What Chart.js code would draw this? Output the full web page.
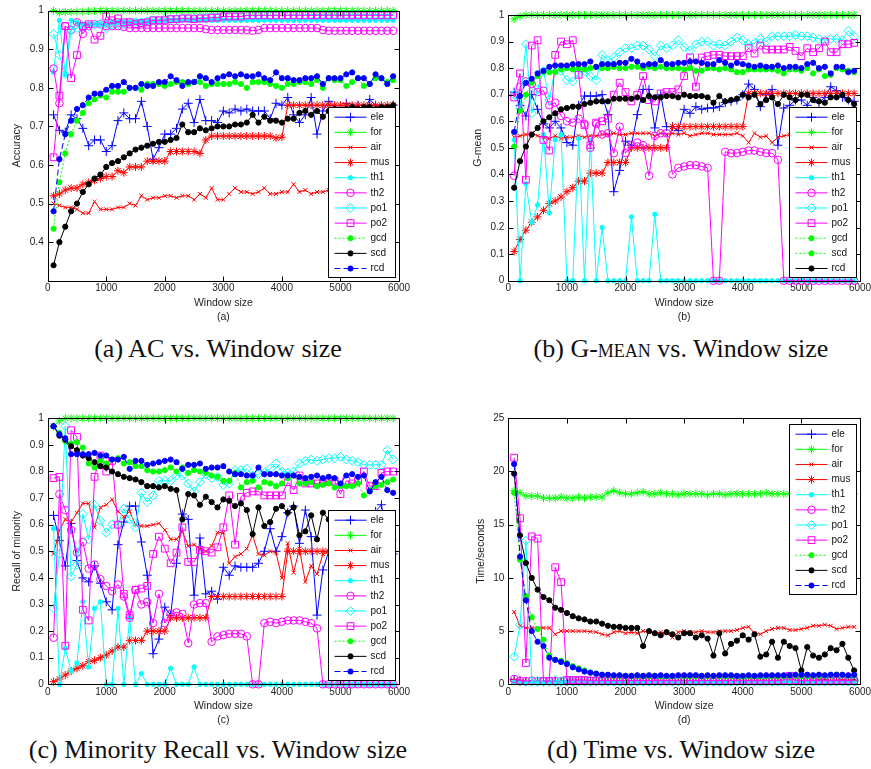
<!DOCTYPE html>
<html>
<head>
<meta charset="utf-8">
<script src="https://cdn.jsdelivr.net/npm/chart.js@4.4.1/dist/chart.umd.min.js"></script>
<style>
  html, body { margin: 0; padding: 0; background: #fff; overflow: hidden; }
  #page { position: relative; width: 871px; height: 769px; }
  canvas { position: absolute; }
  .cap { position: absolute; width: 440px; text-align: center; font-family: "Liberation Serif", "DejaVu Serif", serif;
         font-size: 26px; line-height: 30px; color: #111; white-space: nowrap; }
  .sc { font-variant: small-caps; }
</style>
</head>
<body>
<div id="page">
  <canvas id="acc" width="430" height="325" style="left:0;top:0"></canvas>
  <canvas id="gm" width="450" height="325" style="left:440px;top:0"></canvas>
  <canvas id="rec" width="430" height="328" style="left:0;top:400px"></canvas>
  <canvas id="time" width="450" height="328" style="left:440px;top:400px"></canvas>
  <div class="cap" style="left:-2px;top:334px">(a) AC vs. Window size</div>
  <div class="cap" style="left:461px;top:334px">(b) G-<span class="sc">mean</span> vs. Window size</div>
  <div class="cap" style="left:-2px;top:735px">(c) Minority Recall vs. Window size</div>
  <div class="cap" style="left:461px;top:735px">(d) Time vs. Window size</div>
</div>
<script>
// window sizes on the x axis
const windowSizes = [100, 200, 300, 400, 500, 600, 700, 800, 900, 1000,
  1100, 1200, 1300, 1400, 1500, 1600, 1700, 1800, 1900, 2000,
  2100, 2200, 2300, 2400, 2500, 2600, 2700, 2800, 2900, 3000,
  3100, 3200, 3300, 3400, 3500, 3600, 3700, 3800, 3900, 4000,
  4100, 4200, 4300, 4400, 4500, 4600, 4700, 4800, 4900, 5000,
  5100, 5200, 5300, 5400, 5500, 5600, 5700, 5800, 5900];

const seriesNames = ['ele', 'for', 'air', 'mus', 'th1', 'th2', 'po1', 'po2', 'gcd', 'scd', 'rcd'];

const xTicks = [0, 1000, 2000, 3000, 4000, 5000, 6000];

// ---- (a) accuracy ----
const accEle = [0.73, 0.69, 0.685, 0.73, 0.72, 0.695, 0.65, 0.665, 0.665, 0.635,
  0.65, 0.715, 0.735, 0.72, 0.72, 0.765, 0.70, 0.615, 0.645, 0.68,
  0.68, 0.695, 0.745, 0.76, 0.71, 0.77, 0.715, 0.715, 0.71, 0.74,
  0.735, 0.745, 0.74, 0.745, 0.74, 0.74, 0.74, 0.72, 0.76, 0.755,
  0.775, 0.73, 0.71, 0.73, 0.775, 0.68, 0.74, 0.765, 0.75, 0.745,
  0.76, 0.75, 0.755, 0.74, 0.77, 0.755, 0.75, 0.745, 0.755];
const accFor = [1, 0.995, 0.997, 0.997, 0.998, 0.998, 0.999, 0.999, 1, 1,
  1, 1, 1, 1, 1, 1, 1, 1, 1, 1,
  1, 1, 1, 1, 1, 1, 1, 1, 1, 1,
  1, 1, 1, 1, 1, 1, 1, 1, 1, 1,
  1, 1, 1, 1, 1, 1, 1, 1, 1, 1,
  1, 1, 1, 1, 1, 1, 1, 1, 1];
const accAir = [0.50, 0.495, 0.49, 0.49, 0.485, 0.475, 0.475, 0.505, 0.485, 0.485,
  0.485, 0.49, 0.49, 0.50, 0.495, 0.52, 0.51, 0.515, 0.515, 0.52,
  0.52, 0.515, 0.52, 0.52, 0.51, 0.525, 0.515, 0.54, 0.51, 0.51,
  0.525, 0.54, 0.53, 0.53, 0.525, 0.53, 0.54, 0.525, 0.525, 0.53,
  0.53, 0.55, 0.53, 0.535, 0.525, 0.53, 0.53, 0.535, 0.53, 0.54,
  0.535, 0.53, 0.545, 0.53, 0.535, 0.54, 0.53, 0.535, 0.54];
const accMus = [0.52, 0.525, 0.535, 0.54, 0.54, 0.55, 0.555, 0.56, 0.565, 0.57,
  0.57, 0.585, 0.58, 0.595, 0.595, 0.595, 0.61, 0.61, 0.61, 0.61,
  0.635, 0.635, 0.635, 0.635, 0.635, 0.63, 0.665, 0.675, 0.675, 0.675,
  0.675, 0.675, 0.675, 0.675, 0.675, 0.675, 0.675, 0.675, 0.67, 0.672,
  0.755, 0.755, 0.755, 0.755, 0.755, 0.755, 0.755, 0.755, 0.755, 0.755,
  0.755, 0.755, 0.755, 0.755, 0.755, 0.755, 0.755, 0.755, 0.755];
const accTh1 = [0.84, 0.975, 0.835, 0.975, 0.97, 0.965, 0.965, 0.965, 0.965, 0.968,
  0.97, 0.97, 0.97, 0.97, 0.972, 0.972, 0.972, 0.973, 0.973, 0.974,
  0.975, 0.975, 0.975, 0.975, 0.975, 0.975, 0.975, 0.975, 0.975, 0.975,
  0.975, 0.975, 0.975, 0.975, 0.975, 0.975, 0.975, 0.975, 0.975, 0.975,
  0.975, 0.975, 0.975, 0.975, 0.975, 0.975, 0.975, 0.975, 0.975, 0.975,
  0.975, 0.975, 0.975, 0.975, 0.975, 0.975, 0.975, 0.975, 0.975];
const accTh2 = [0.85, 0.76, 0.96, 0.95, 0.97, 0.94, 0.96, 0.965, 0.965, 0.96,
  0.96, 0.96, 0.958, 0.955, 0.955, 0.955, 0.955, 0.955, 0.955, 0.955,
  0.955, 0.955, 0.955, 0.955, 0.955, 0.955, 0.952, 0.95, 0.95, 0.95,
  0.95, 0.95, 0.95, 0.95, 0.948, 0.95, 0.955, 0.955, 0.955, 0.955,
  0.955, 0.955, 0.955, 0.955, 0.955, 0.955, 0.95, 0.948, 0.948, 0.948,
  0.948, 0.948, 0.948, 0.948, 0.948, 0.948, 0.948, 0.948, 0.948];
const accPo1 = [0.94, 0.885, 0.835, 0.95, 0.955, 0.96, 0.96, 0.965, 0.965, 0.955,
  0.965, 0.965, 0.965, 0.97, 0.97, 0.97, 0.972, 0.975, 0.975, 0.978,
  0.978, 0.978, 0.98, 0.98, 0.98, 0.982, 0.982, 0.983, 0.983, 0.985,
  0.985, 0.985, 0.985, 0.987, 0.987, 0.987, 0.988, 0.988, 0.988, 0.988,
  0.988, 0.989, 0.989, 0.989, 0.99, 0.99, 0.99, 0.99, 0.99, 0.99,
  0.99, 0.99, 0.99, 0.99, 0.99, 0.99, 0.99, 0.99, 0.99];
const accPo2 = [0.62, 0.78, 0.96, 0.825, 0.885, 0.96, 0.965, 0.925, 0.935, 0.985,
  0.975, 0.98, 0.97, 0.97, 0.965, 0.968, 0.97, 0.975, 0.975, 0.975,
  0.978, 0.978, 0.98, 0.98, 0.978, 0.98, 0.98, 0.982, 0.982, 0.985,
  0.985, 0.985, 0.985, 0.988, 0.988, 0.988, 0.988, 0.988, 0.988, 0.988,
  0.988, 0.988, 0.988, 0.988, 0.988, 0.988, 0.988, 0.988, 0.988, 0.988,
  0.988, 0.988, 0.988, 0.988, 0.988, 0.988, 0.988, 0.988, 0.988];
const accGcd = [0.435, 0.555, 0.63, 0.68, 0.715, 0.735, 0.76, 0.77, 0.78, 0.775,
  0.79, 0.79, 0.79, 0.80, 0.80, 0.795, 0.81, 0.81, 0.81, 0.805,
  0.81, 0.815, 0.815, 0.81, 0.815, 0.815, 0.805, 0.81, 0.81, 0.81,
  0.81, 0.815, 0.81, 0.80, 0.815, 0.815, 0.815, 0.81, 0.805, 0.80,
  0.81, 0.81, 0.815, 0.815, 0.81, 0.82, 0.80, 0.825, 0.82, 0.82,
  0.805, 0.815, 0.825, 0.805, 0.81, 0.825, 0.825, 0.815, 0.82];
const accScd = [0.34, 0.40, 0.44, 0.48, 0.50, 0.53, 0.55, 0.565, 0.575, 0.595,
  0.605, 0.61, 0.62, 0.63, 0.64, 0.645, 0.65, 0.655, 0.66, 0.66,
  0.665, 0.67, 0.705, 0.685, 0.685, 0.695, 0.69, 0.695, 0.70, 0.70,
  0.70, 0.705, 0.705, 0.71, 0.73, 0.71, 0.725, 0.715, 0.715, 0.71,
  0.72, 0.72, 0.735, 0.74, 0.73, 0.74, 0.725, 0.74, 0.745, 0.74,
  0.745, 0.75, 0.745, 0.75, 0.75, 0.745, 0.75, 0.75, 0.755];
const accRcd = [0.48, 0.615, 0.68, 0.715, 0.745, 0.755, 0.775, 0.785, 0.785, 0.795,
  0.805, 0.805, 0.815, 0.80, 0.80, 0.81, 0.805, 0.805, 0.815, 0.815,
  0.83, 0.82, 0.805, 0.815, 0.815, 0.83, 0.825, 0.815, 0.825, 0.83,
  0.835, 0.83, 0.835, 0.83, 0.83, 0.835, 0.825, 0.82, 0.84, 0.825,
  0.825, 0.82, 0.82, 0.825, 0.825, 0.83, 0.81, 0.825, 0.825, 0.825,
  0.835, 0.84, 0.825, 0.825, 0.81, 0.835, 0.825, 0.81, 0.83];

// ---- (b) G-mean ----
const gmEle = [0.71, 0.66, 0.62, 0.70, 0.645, 0.59, 0.575, 0.60, 0.575, 0.52,
  0.51, 0.66, 0.695, 0.695, 0.695, 0.70, 0.625, 0.335, 0.415, 0.525,
  0.51, 0.625, 0.72, 0.72, 0.575, 0.70, 0.58, 0.58, 0.565, 0.645,
  0.63, 0.655, 0.645, 0.65, 0.65, 0.655, 0.67, 0.675, 0.68, 0.70,
  0.74, 0.72, 0.655, 0.70, 0.72, 0.51, 0.65, 0.66, 0.68, 0.68,
  0.66, 0.69, 0.67, 0.69, 0.73, 0.715, 0.69, 0.68, 0.675];
const gmFor = [0.985, 0.995, 1, 1, 1, 1, 1, 1, 1, 1,
  1, 1, 1, 1, 1, 1, 1, 1, 1, 1,
  1, 1, 1, 1, 1, 1, 1, 1, 1, 1,
  1, 1, 1, 1, 1, 1, 1, 1, 1, 1,
  1, 1, 1, 1, 1, 1, 1, 1, 1, 1,
  1, 1, 1, 1, 1, 1, 1, 1, 1];
const gmAir = [0.54, 0.545, 0.55, 0.555, 0.545, 0.54, 0.535, 0.545, 0.535, 0.54,
  0.54, 0.545, 0.54, 0.545, 0.545, 0.55, 0.55, 0.555, 0.55, 0.55,
  0.555, 0.555, 0.555, 0.555, 0.545, 0.555, 0.55, 0.555, 0.55, 0.555,
  0.545, 0.55, 0.555, 0.555, 0.55, 0.55, 0.55, 0.55, 0.555, 0.545,
  0.52, 0.555, 0.54, 0.545, 0.52, 0.54, 0.545, 0.55, 0.545, 0.54,
  0.545, 0.55, 0.545, 0.54, 0.55, 0.545, 0.55, 0.545, 0.55];
const gmMus = [0.11, 0.155, 0.19, 0.22, 0.24, 0.265, 0.29, 0.30, 0.315, 0.335,
  0.35, 0.375, 0.375, 0.405, 0.405, 0.405, 0.445, 0.445, 0.445, 0.445,
  0.50, 0.50, 0.50, 0.50, 0.50, 0.50, 0.50, 0.58, 0.58, 0.58,
  0.58, 0.58, 0.58, 0.58, 0.58, 0.58, 0.58, 0.58, 0.58, 0.58,
  0.705, 0.705, 0.705, 0.705, 0.705, 0.705, 0.705, 0.705, 0.705, 0.705,
  0.705, 0.705, 0.705, 0.705, 0.705, 0.705, 0.705, 0.705, 0.705];
const gmTh1 = [0.53, 0, 0.365, 0.22, 0.285, 0.55, 0.255, 0.53, 0.55, 0,
  0, 0.535, 0, 0.53, 0, 0.20, 0, 0, 0, 0,
  0.24, 0, 0, 0, 0.25, 0, 0, 0, 0, 0,
  0, 0, 0, 0, 0, 0, 0, 0, 0, 0,
  0, 0, 0, 0, 0, 0, 0, 0, 0, 0,
  0, 0, 0, 0, 0, 0, 0, 0, 0];
const gmTh2 = [0.395, 0.73, 0.75, 0.74, 0.71, 0.715, 0.66, 0.67, 0.62, 0.60,
  0.595, 0.61, 0.59, 0.50, 0.59, 0.55, 0.555, 0.48, 0.58, 0.48,
  0.51, 0.52, 0.51, 0.395, 0.545, 0.555, 0.555, 0.40, 0.425, 0.43,
  0.435, 0.435, 0.43, 0.425, 0, 0, 0.485, 0.48, 0.48, 0.485,
  0.49, 0.49, 0.485, 0.48, 0.48, 0.455, 0, 0, 0, 0,
  0, 0, 0, 0, 0, 0, 0, 0, 0];
const gmPo1 = [0.70, 0.65, 0.89, 0.63, 0.72, 0.79, 0.68, 0.80, 0.79, 0.755,
  0.75, 0.78, 0.79, 0.77, 0.755, 0.85, 0.83, 0.84, 0.86, 0.875,
  0.875, 0.885, 0.885, 0.87, 0.845, 0.885, 0.875, 0.885, 0.905, 0.88,
  0.865, 0.89, 0.90, 0.90, 0.885, 0.89, 0.885, 0.90, 0.915, 0.905,
  0.89, 0.895, 0.91, 0.90, 0.92, 0.92, 0.92, 0.92, 0.925, 0.92,
  0.92, 0.915, 0.91, 0.905, 0.91, 0.91, 0.905, 0.94, 0.92];
const gmPo2 = [0.69, 0.78, 0.38, 0.885, 0.905, 0.53, 0.49, 0.85, 0.90, 0.89,
  0.905, 0.775, 0.585, 0.51, 0.595, 0.60, 0.61, 0.70, 0.745, 0.71,
  0.675, 0.70, 0.77, 0.68, 0.675, 0.705, 0.71, 0.71, 0.72, 0.77,
  0.84, 0.73, 0.84, 0.845, 0.85, 0.85, 0.845, 0.845, 0.845, 0.845,
  0.875, 0.855, 0.885, 0.87, 0.87, 0.87, 0.87, 0.88, 0.865, 0.845,
  0.875, 0.86, 0.875, 0.90, 0.86, 0.86, 0.89, 0.89, 0.895];
const gmGcd = [0.505, 0.64, 0.70, 0.745, 0.77, 0.785, 0.785, 0.785, 0.795, 0.80,
  0.795, 0.80, 0.795, 0.80, 0.805, 0.80, 0.80, 0.805, 0.80, 0.80,
  0.805, 0.805, 0.80, 0.805, 0.80, 0.805, 0.80, 0.80, 0.80, 0.795,
  0.80, 0.79, 0.79, 0.80, 0.80, 0.795, 0.80, 0.795, 0.785, 0.785,
  0.795, 0.795, 0.795, 0.795, 0.795, 0.79, 0.78, 0.795, 0.795, 0.79,
  0.80, 0.78, 0.795, 0.77, 0.775, 0.80, 0.795, 0.79, 0.785];
const gmScd = [0.35, 0.45, 0.505, 0.55, 0.575, 0.60, 0.615, 0.63, 0.645, 0.65,
  0.655, 0.655, 0.665, 0.67, 0.675, 0.675, 0.675, 0.685, 0.685, 0.685,
  0.685, 0.69, 0.68, 0.695, 0.69, 0.69, 0.695, 0.695, 0.69, 0.70,
  0.695, 0.695, 0.695, 0.69, 0.67, 0.695, 0.675, 0.68, 0.685, 0.70,
  0.69, 0.70, 0.665, 0.68, 0.69, 0.665, 0.70, 0.69, 0.68, 0.70,
  0.70, 0.68, 0.675, 0.67, 0.69, 0.69, 0.70, 0.68, 0.665];
const gmRcd = [0.56, 0.695, 0.745, 0.76, 0.78, 0.79, 0.805, 0.81, 0.81, 0.81,
  0.815, 0.815, 0.815, 0.825, 0.805, 0.815, 0.815, 0.815, 0.82, 0.82,
  0.835, 0.825, 0.81, 0.815, 0.815, 0.83, 0.815, 0.815, 0.82, 0.82,
  0.825, 0.825, 0.82, 0.815, 0.815, 0.83, 0.82, 0.81, 0.82, 0.815,
  0.81, 0.805, 0.81, 0.805, 0.805, 0.81, 0.80, 0.805, 0.805, 0.80,
  0.815, 0.82, 0.80, 0.805, 0.78, 0.805, 0.805, 0.785, 0.79];

// ---- (c) recall of the minority class ----
const recEle = [0.635, 0.54, 0.445, 0.605, 0.465, 0.40, 0.385, 0.445, 0.38, 0.31,
  0.28, 0.525, 0.61, 0.67, 0.67, 0.535, 0.41, 0.115, 0.17, 0.29,
  0.26, 0.455, 0.64, 0.62, 0.335, 0.55, 0.34, 0.35, 0.32, 0.44,
  0.41, 0.445, 0.44, 0.44, 0.44, 0.455, 0.50, 0.585, 0.50, 0.555,
  0.645, 0.67, 0.53, 0.655, 0.555, 0.26, 0.43, 0.50, 0.55, 0.53,
  0.57, 0.60, 0.58, 0.62, 0.60, 0.65, 0.675, 0.56, 0.49];
const recFor = [0.97, 0.99, 1, 1, 1, 1, 1, 1, 1, 1,
  1, 1, 1, 1, 1, 1, 1, 1, 1, 1,
  1, 1, 1, 1, 1, 1, 1, 1, 1, 1,
  1, 1, 1, 1, 1, 1, 1, 1, 1, 1,
  1, 1, 1, 1, 1, 1, 1, 1, 1, 1,
  1, 1, 1, 1, 1, 1, 1, 1, 1];
const recAir = [0.49, 0.58, 0.62, 0.61, 0.645, 0.68, 0.68, 0.59, 0.665, 0.675,
  0.695, 0.65, 0.63, 0.65, 0.60, 0.595, 0.595, 0.60, 0.605, 0.58,
  0.545, 0.545, 0.575, 0.52, 0.525, 0.51, 0.50, 0.52, 0.57, 0.57,
  0.455, 0.48, 0.49, 0.51, 0.56, 0.49, 0.485, 0.50, 0.495, 0.40,
  0.53, 0.42, 0.51, 0.385, 0.445, 0.415, 0.49, 0.50, 0.48, 0.52,
  0.50, 0.49, 0.51, 0.50, 0.52, 0.49, 0.50, 0.51, 0.50];
const recMus = [0.01, 0.02, 0.035, 0.05, 0.06, 0.07, 0.085, 0.09, 0.10, 0.11,
  0.125, 0.14, 0.14, 0.165, 0.165, 0.165, 0.20, 0.20, 0.20, 0.20,
  0.25, 0.25, 0.25, 0.25, 0.25, 0.25, 0.25, 0.33, 0.33, 0.33,
  0.33, 0.33, 0.33, 0.33, 0.33, 0.33, 0.33, 0.33, 0.33, 0.33,
  0.50, 0.50, 0.50, 0.50, 0.50, 0.50, 0.50, 0.50, 0.50, 0.50,
  0.50, 0.50, 0.50, 0.50, 0.50, 0.50, 0.50, 0.50, 0.50];
const recTh1 = [0.585, 0, 0.135, 0.05, 0.08, 0.31, 0.065, 0.285, 0.31, 0,
  0, 0.285, 0, 0.25, 0, 0.04, 0, 0, 0, 0,
  0.06, 0, 0, 0, 0.065, 0, 0, 0, 0, 0,
  0, 0, 0, 0, 0, 0, 0, 0, 0, 0,
  0, 0, 0, 0, 0, 0, 0, 0, 0, 0,
  0, 0, 0, 0, 0, 0, 0, 0, 0];
const recTh2 = [0.175, 0.715, 0.655, 0.58, 0.495, 0.535, 0.435, 0.45, 0.395, 0.37,
  0.35, 0.375, 0.33, 0.25, 0.355, 0.30, 0.31, 0.23, 0.34, 0.23,
  0.265, 0.27, 0.265, 0.155, 0.30, 0.305, 0.305, 0.16, 0.18, 0.185,
  0.19, 0.19, 0.19, 0.18, 0, 0, 0.23, 0.235, 0.23, 0.235,
  0.24, 0.24, 0.24, 0.235, 0.23, 0.21, 0, 0, 0, 0,
  0, 0, 0, 0, 0, 0, 0, 0, 0];
const recPo1 = [0.285, 0.49, 0.97, 0.405, 0.45, 0.64, 0.545, 0.675, 0.615, 0.57,
  0.60, 0.60, 0.66, 0.62, 0.59, 0.72, 0.685, 0.71, 0.765, 0.765,
  0.765, 0.785, 0.785, 0.755, 0.725, 0.76, 0.79, 0.775, 0.78, 0.75,
  0.755, 0.805, 0.805, 0.81, 0.785, 0.79, 0.795, 0.81, 0.83, 0.80,
  0.795, 0.80, 0.83, 0.84, 0.845, 0.84, 0.845, 0.85, 0.85, 0.855,
  0.845, 0.84, 0.835, 0.825, 0.825, 0.825, 0.825, 0.88, 0.845];
const recPo2 = [0.775, 0.78, 0.145, 0.955, 0.93, 0.28, 0.24, 0.78, 0.86, 0.80,
  0.84, 0.60, 0.34, 0.26, 0.355, 0.36, 0.37, 0.49, 0.555, 0.51,
  0.455, 0.495, 0.59, 0.46, 0.46, 0.505, 0.50, 0.495, 0.515, 0.59,
  0.71, 0.525, 0.705, 0.72, 0.725, 0.725, 0.71, 0.71, 0.71, 0.71,
  0.76, 0.73, 0.785, 0.755, 0.755, 0.755, 0.76, 0.765, 0.765, 0.715,
  0.765, 0.755, 0.765, 0.80, 0.745, 0.745, 0.795, 0.80, 0.80];
const recGcd = [0.97, 0.945, 0.915, 0.905, 0.91, 0.89, 0.83, 0.815, 0.84, 0.83,
  0.845, 0.85, 0.83, 0.835, 0.82, 0.82, 0.805, 0.80, 0.80, 0.805,
  0.815, 0.80, 0.815, 0.795, 0.805, 0.80, 0.795, 0.785, 0.78, 0.765,
  0.765, 0.795, 0.74, 0.76, 0.765, 0.74, 0.76, 0.755, 0.745, 0.755,
  0.775, 0.785, 0.755, 0.755, 0.76, 0.745, 0.75, 0.755, 0.74, 0.745,
  0.745, 0.745, 0.755, 0.71, 0.73, 0.745, 0.75, 0.76, 0.77];
const recScd = [0.97, 0.935, 0.92, 0.895, 0.88, 0.86, 0.85, 0.835, 0.82, 0.815,
  0.80, 0.79, 0.78, 0.775, 0.77, 0.76, 0.745, 0.745, 0.74, 0.745,
  0.735, 0.73, 0.62, 0.715, 0.71, 0.675, 0.705, 0.685, 0.665, 0.695,
  0.69, 0.67, 0.68, 0.655, 0.565, 0.665, 0.595, 0.61, 0.66, 0.67,
  0.645, 0.665, 0.56, 0.575, 0.635, 0.545, 0.645, 0.62, 0.60, 0.63,
  0.61, 0.58, 0.62, 0.60, 0.59, 0.57, 0.60, 0.56, 0.54];
const recRcd = [0.97, 0.94, 0.925, 0.865, 0.865, 0.865, 0.865, 0.87, 0.86, 0.86,
  0.845, 0.845, 0.855, 0.81, 0.84, 0.84, 0.825, 0.83, 0.835, 0.84,
  0.845, 0.835, 0.81, 0.825, 0.825, 0.83, 0.81, 0.815, 0.815, 0.82,
  0.80, 0.79, 0.79, 0.785, 0.785, 0.815, 0.79, 0.79, 0.79, 0.785,
  0.785, 0.785, 0.78, 0.775, 0.78, 0.785, 0.775, 0.78, 0.775, 0.755,
  0.785, 0.79, 0.78, 0.785, 0.725, 0.76, 0.78, 0.73, 0.72];

// ---- (d) running time in seconds ----
const timeEle = [0.45, 0.3, 0.25, 0.3, 0.3, 0.25, 0.3, 0.3, 0.25, 0.3,
  0.3, 0.3, 0.3, 0.3, 0.3, 0.3, 0.3, 0.3, 0.35, 0.3,
  0.3, 0.3, 0.35, 0.3, 0.3, 0.3, 0.3, 0.35, 0.3, 0.3,
  0.35, 0.3, 0.3, 0.35, 0.3, 0.3, 0.35, 0.3, 0.35, 0.3,
  0.35, 0.35, 0.3, 0.35, 0.35, 0.3, 0.35, 0.35, 0.35, 0.35,
  0.35, 0.35, 0.35, 0.4, 0.35, 0.35, 0.4, 0.35, 0.4];
const timeFor = [18.2, 18.0, 17.7, 17.7, 17.7, 17.5, 17.5, 17.5, 17.6, 17.5,
  17.5, 17.6, 17.5, 17.6, 17.6, 17.6, 18.0, 18.2, 18.0, 17.9,
  17.9, 18.0, 18.1, 17.9, 17.9, 18.0, 17.9, 17.9, 17.8, 17.9,
  17.9, 17.9, 17.9, 17.8, 17.9, 17.9, 17.8, 17.9, 17.9, 17.9,
  17.9, 17.9, 17.9, 18.0, 17.9, 17.9, 17.9, 17.9, 17.9, 17.9,
  17.9, 17.9, 17.9, 17.9, 17.9, 17.9, 17.9, 17.9, 17.9];
const timeAir = [6.8, 5.5, 5.3, 5.3, 5.3, 5.3, 5.3, 4.7, 5.0, 5.0,
  5.0, 5.0, 5.0, 4.95, 4.9, 4.7, 4.6, 4.9, 5.0, 4.8,
  4.9, 4.8, 5.0, 4.9, 4.8, 4.9, 4.8, 4.4, 4.9, 5.0,
  4.9, 4.9, 5.0, 4.9, 4.9, 5.0, 5.0, 5.0, 5.1, 5.3,
  5.4, 4.8, 4.7, 5.0, 5.2, 5.3, 5.3, 5.1, 5.1, 5.2,
  5.3, 5.5, 5.5, 5.6, 5.5, 5.2, 5.3, 5.4, 5.4];
const timeMus = [0.3, 0.25, 0.2, 0.2, 0.2, 0.2, 0.2, 0.2, 0.2, 0.2,
  0.2, 0.2, 0.2, 0.2, 0.2, 0.2, 0.2, 0.2, 0.2, 0.2,
  0.2, 0.2, 0.2, 0.2, 0.25, 0.2, 0.2, 0.2, 0.2, 0.2,
  0.2, 0.2, 0.25, 0.2, 0.2, 0.2, 0.2, 0.2, 0.25, 0.2,
  0.25, 0.2, 0.25, 0.25, 0.2, 0.25, 0.25, 0.25, 0.25, 0.25,
  0.25, 0.25, 0.3, 0.25, 0.25, 0.3, 0.25, 0.3, 0.3];
const timeTh1 = [0.2, 0.15, 0.1, 0.1, 0.1, 0.1, 0.1, 0.1, 0.1, 0.1,
  0.1, 0.1, 0.1, 0.1, 0.1, 0.1, 0.1, 0.1, 0.1, 0.1,
  0.1, 0.1, 0.1, 0.1, 0.1, 0.1, 0.1, 0.1, 0.1, 0.1,
  0.1, 0.1, 0.1, 0.1, 0.1, 0.1, 0.1, 0.1, 0.1, 0.1,
  0.1, 0.1, 0.1, 0.1, 0.1, 0.1, 0.1, 0.1, 0.1, 0.1,
  0.1, 0.1, 0.1, 0.1, 0.1, 0.1, 0.1, 0.1, 0.1];
const timeTh2 = [0.5, 0.35, 0.3, 0.35, 0.3, 0.3, 0.3, 0.3, 0.3, 0.3,
  0.3, 0.3, 0.3, 0.3, 0.3, 0.3, 0.3, 0.3, 0.3, 0.3,
  0.3, 0.3, 0.3, 0.3, 0.3, 0.3, 0.3, 0.3, 0.3, 0.3,
  0.3, 0.3, 0.3, 0.3, 0.3, 0.3, 0.3, 0.3, 0.3, 0.3,
  0.3, 0.3, 0.3, 0.3, 0.3, 0.3, 0.3, 0.35, 0.3, 0.3,
  0.3, 0.3, 0.3, 0.3, 0.3, 0.3, 0.3, 0.3, 0.3];
const timePo1 = [2.6, 5.6, 13.5, 0.3, 0.3, 0.3, 0.3, 0.4, 0.3, 0.3,
  0.3, 0.3, 0.3, 0.3, 0.3, 0.3, 0.3, 0.3, 0.3, 0.3,
  0.3, 0.3, 0.3, 0.3, 0.3, 0.3, 0.3, 0.3, 0.3, 0.3,
  0.3, 0.3, 0.3, 0.3, 0.3, 0.3, 0.3, 0.3, 0.3, 0.3,
  0.3, 0.3, 0.3, 0.3, 0.3, 0.3, 0.3, 0.3, 0.3, 0.3,
  0.3, 0.3, 0.3, 0.3, 0.3, 0.3, 0.3, 0.3, 0.3];
const timePo2 = [21.3, 15.6, 2.0, 13.9, 13.7, 0.3, 0.3, 11.0, 9.6, 0.4,
  0.4, 0.4, 0.4, 0.35, 0.35, 0.35, 0.35, 0.35, 0.35, 0.35,
  0.35, 0.35, 0.35, 0.35, 0.35, 0.35, 0.35, 0.35, 0.35, 0.35,
  0.35, 0.35, 0.35, 0.35, 0.35, 0.35, 0.35, 0.35, 0.35, 0.35,
  0.35, 0.35, 0.35, 0.35, 0.35, 0.35, 0.4, 0.8, 0.4, 0.35,
  0.35, 0.35, 0.35, 0.35, 0.35, 0.35, 0.35, 0.35, 0.35];
const timeGcd = [18.0, 11.7, 8.3, 6.3, 5.2, 4.2, 2.7, 2.3, 2.2, 2.0,
  1.7, 1.5, 1.3, 1.1, 1.0, 0.9, 0.85, 0.8, 0.8, 0.8,
  0.75, 0.8, 0.75, 0.75, 0.8, 0.75, 0.75, 0.75, 0.8, 0.75,
  0.75, 0.75, 0.75, 0.75, 0.75, 0.75, 0.75, 0.75, 0.75, 0.7,
  0.75, 0.75, 0.75, 0.75, 0.75, 0.75, 0.75, 0.8, 0.8, 0.75,
  0.8, 0.8, 0.8, 0.8, 0.85, 0.9, 0.85, 0.8, 0.85];
const timeScd = [19.8, 14.0, 11.4, 10.0, 8.9, 8.2, 7.9, 7.2, 7.0, 6.7,
  6.4, 6.2, 6.1, 5.9, 5.9, 5.7, 5.5, 5.4, 5.4, 5.3,
  5.3, 5.3, 3.6, 5.0, 4.8, 4.6, 4.9, 4.7, 4.4, 4.8,
  4.8, 4.4, 4.6, 4.3, 2.7, 4.8, 2.9, 3.8, 4.1, 4.6,
  4.2, 4.7, 2.6, 2.8, 4.0, 2.5, 4.0, 3.6, 3.4, 1.3,
  3.5, 2.7, 2.5, 2.8, 3.4, 3.2, 3.8, 2.5, 1.3];
const timeRcd = [20.7, 12.0, 7.9, 5.0, 4.0, 3.6, 2.5, 2.3, 2.1, 1.9,
  1.6, 1.4, 1.2, 1.1, 1.0, 0.9, 0.9, 0.85, 0.85, 0.8,
  0.8, 0.85, 0.8, 0.85, 0.8, 0.85, 0.8, 0.8, 0.85, 0.85,
  0.85, 0.85, 0.8, 0.85, 0.8, 0.85, 0.85, 0.85, 0.8, 0.8,
  0.85, 0.8, 0.85, 0.85, 0.85, 0.85, 0.85, 0.85, 0.9, 0.9,
  0.9, 0.85, 0.9, 0.85, 0.9, 0.9, 0.9, 0.85, 0.9];

const accSeries = [accEle, accFor, accAir, accMus, accTh1, accTh2, accPo1, accPo2, accGcd, accScd, accRcd];
const gmSeries = [gmEle, gmFor, gmAir, gmMus, gmTh1, gmTh2, gmPo1, gmPo2, gmGcd, gmScd, gmRcd];
const recSeries = [recEle, recFor, recAir, recMus, recTh1, recTh2, recPo1, recPo2, recGcd, recScd, recRcd];
const timeSeries = [timeEle, timeFor, timeAir, timeMus, timeTh1, timeTh2, timePo1, timePo2, timeGcd, timeScd, timeRcd];

// MATLAB-like line specs, one per series
const BLUE = '#0000ff', GREEN = '#00ff00', RED = '#ff0000', CYAN = '#00ffff', MAGENTA = '#ff00ff', BLACK = '#000000';
const specs = [
  { color: BLUE,    marker: 'cross',    size: 4.5, fill: false },
  { color: GREEN,   marker: 'star',     size: 4,   fill: false },
  { color: RED,     marker: 'crossRot', size: 2.8, fill: false },
  { color: RED,     marker: 'star',     size: 4,   fill: false },
  { color: CYAN,    marker: 'circle',   size: 2.2, fill: true },
  { color: MAGENTA, marker: 'circle',   size: 3.8, fill: false },
  { color: CYAN,    marker: 'rectRot',  size: 4.5, fill: false },
  { color: MAGENTA, marker: 'rect',     size: 4.8, fill: false },
  { color: GREEN,   marker: 'circle',   size: 2.6, fill: true, dash: [2, 2] },
  { color: BLACK,   marker: 'circle',   size: 2.6, fill: true },
  { color: BLUE,    marker: 'circle',   size: 2.6, fill: true, dash: [6, 3] }
];

Chart.defaults.font.family = '"Liberation Sans", Arial, sans-serif';
Chart.defaults.font.size = 10;
Chart.defaults.color = '#1e1e1e';

const crisp = v => Math.round(v) + 0.5;

// box, inward tick marks and the in-axes legend
function framePlugin(legend) {
  return {
    id: 'frame',
    afterDatasetsDraw(chart) {
      const { ctx, chartArea: a } = chart;
      const xs = chart.scales.x, ys = chart.scales.y;
      const L = crisp(a.left), R = crisp(a.right), T = crisp(a.top), B = crisp(a.bottom);
      ctx.save();
      ctx.strokeStyle = '#000';
      ctx.lineWidth = 1;
      ctx.setLineDash([]);
      ctx.beginPath();
      xs.ticks.forEach(t => {
        const p = crisp(xs.getPixelForValue(t.value));
        ctx.moveTo(p, B); ctx.lineTo(p, B - 5);
        ctx.moveTo(p, T); ctx.lineTo(p, T + 5);
      });
      ys.ticks.forEach(t => {
        const p = crisp(ys.getPixelForValue(t.value));
        ctx.moveTo(L, p); ctx.lineTo(L + 5, p);
        ctx.moveTo(R, p); ctx.lineTo(R - 5, p);
      });
      ctx.stroke();
      ctx.strokeRect(L, T, R - L, B - T);

      const w = 67, h = 170, inset = 5;
      const x0 = crisp(R - inset - w);
      const y0 = crisp(legend.anchor === 'top' ? T + inset : B - inset - h);
      ctx.fillStyle = '#fff';
      ctx.fillRect(x0, y0, w, h);
      ctx.strokeRect(x0, y0, w, h);
      const rowH = (h - 18.7) / 10;
      ctx.font = '10px "Liberation Sans", Arial, sans-serif';
      ctx.textBaseline = 'middle';
      ctx.textAlign = 'left';
      seriesNames.forEach((name, k) => {
        const s = legend.styles[k];
        const y = y0 + 9.7 + k * rowH;
        ctx.strokeStyle = s.color;
        ctx.lineWidth = 1;
        ctx.setLineDash(s.dash || []);
        ctx.beginPath();
        ctx.moveTo(x0 + 6, y); ctx.lineTo(x0 + 38, y);
        ctx.stroke();
        ctx.setLineDash([]);
        ctx.fillStyle = s.fill ? s.color : 'rgba(0,0,0,0)';
        Chart.helpers.drawPoint(ctx, { pointStyle: s.marker, radius: s.size, rotation: 0, borderWidth: 1 }, x0 + 22, y);
        ctx.fillStyle = '#111';
        ctx.fillText(name, x0 + 42, y);
      });
      ctx.restore();
    }
  };
}

function buildDatasets(series) {
  return seriesNames.map((name, i) => {
    const s = specs[i];
    const bg = s.fill ? s.color : 'rgba(0,0,0,0)';
    return {
      label: name,
      data: windowSizes.map((w, k) => ({ x: w, y: series[i][k] })),
      borderColor: s.color,
      backgroundColor: bg,
      borderWidth: 1,
      borderDash: s.dash || [],
      pointStyle: s.marker,
      pointRadius: s.size,
      pointBorderColor: s.color,
      pointBackgroundColor: bg,
      pointBorderWidth: 1,
      tension: 0,
      fill: false,
      clip: false,
      order: seriesNames.length - i
    };
  });
}

function makeChart(id, series, o) {
  new Chart(document.getElementById(id), {
    type: 'line',
    data: { datasets: buildDatasets(series) },
    options: {
      responsive: false,
      animation: false,
      devicePixelRatio: 1,
      layout: { padding: o.pad },
      plugins: { legend: { display: false }, tooltip: { enabled: false } },
      scales: {
        x: {
          type: 'linear', min: 0, max: 6000,
          afterBuildTicks: s => { s.ticks = xTicks.map(v => ({ value: v })); },
          ticks: { padding: 2, maxRotation: 0, autoSkip: false, callback: v => String(v) },
          grid: { display: false, drawTicks: false },
          border: { display: false },
          title: { display: true, text: ['Window size', o.tag], font: { size: 10.5, lineHeight: 1.35 }, padding: { top: 0, bottom: 1 } },
          afterFit: s => { s.height = o.xHeight; }
        },
        y: {
          type: 'linear', min: o.yMin, max: o.yMax,
          ticks: {
            stepSize: o.yStep, padding: 4,
            callback: v => { const r = Math.round(v * 100) / 100; return r < o.yLabelFrom ? '' : String(r); }
          },
          grid: { display: false, drawTicks: false },
          border: { display: false },
          title: { display: true, text: o.yTitle, font: { size: 10.5 }, padding: { top: o.yTitlePad, bottom: 0 } },
          afterFit: s => { s.width = o.yWidth; }
        }
      }
    },
    plugins: [framePlugin(o.legend)]
  });
}

// legend of panel (b) lists gcd/scd in the dotted green style and rcd in solid black
const gmLegendStyles = specs.slice(0, 9).concat([specs[8], specs[9]]);

makeChart('acc', accSeries, {
  pad: { left: 0, top: 10.7, right: 31, bottom: 0 }, xHeight: 44.3, yWidth: 47.7,
  yMin: 0.3, yMax: 1, yStep: 0.1, yLabelFrom: 0.35, yTitle: 'Accuracy', yTitlePad: 10.7, tag: '(a)',
  legend: { anchor: 'bottom', styles: specs }
});
makeChart('gm', gmSeries, {
  pad: { left: 0, top: 15, right: 30, bottom: 0 }, xHeight: 44.3, yWidth: 68.3,
  yMin: 0, yMax: 1, yStep: 0.1, yLabelFrom: 0, yTitle: 'G-mean', yTitlePad: 31.7, tag: '(b)',
  legend: { anchor: 'bottom', styles: gmLegendStyles }
});
makeChart('rec', recSeries, {
  pad: { left: 0, top: 18.3, right: 31, bottom: 0 }, xHeight: 43.7, yWidth: 47.7,
  yMin: 0, yMax: 1, yStep: 0.1, yLabelFrom: 0, yTitle: 'Recall of minority', yTitlePad: 10.4, tag: '(c)',
  legend: { anchor: 'bottom', styles: specs }
});
makeChart('time', timeSeries, {
  pad: { left: 0, top: 18.3, right: 30, bottom: 0 }, xHeight: 43.7, yWidth: 68.3,
  yMin: 0, yMax: 25, yStep: 5, yLabelFrom: 0, yTitle: 'Time/seconds', yTitlePad: 34.4, tag: '(d)',
  legend: { anchor: 'top', styles: specs }
});
</script>
</body>
</html>
